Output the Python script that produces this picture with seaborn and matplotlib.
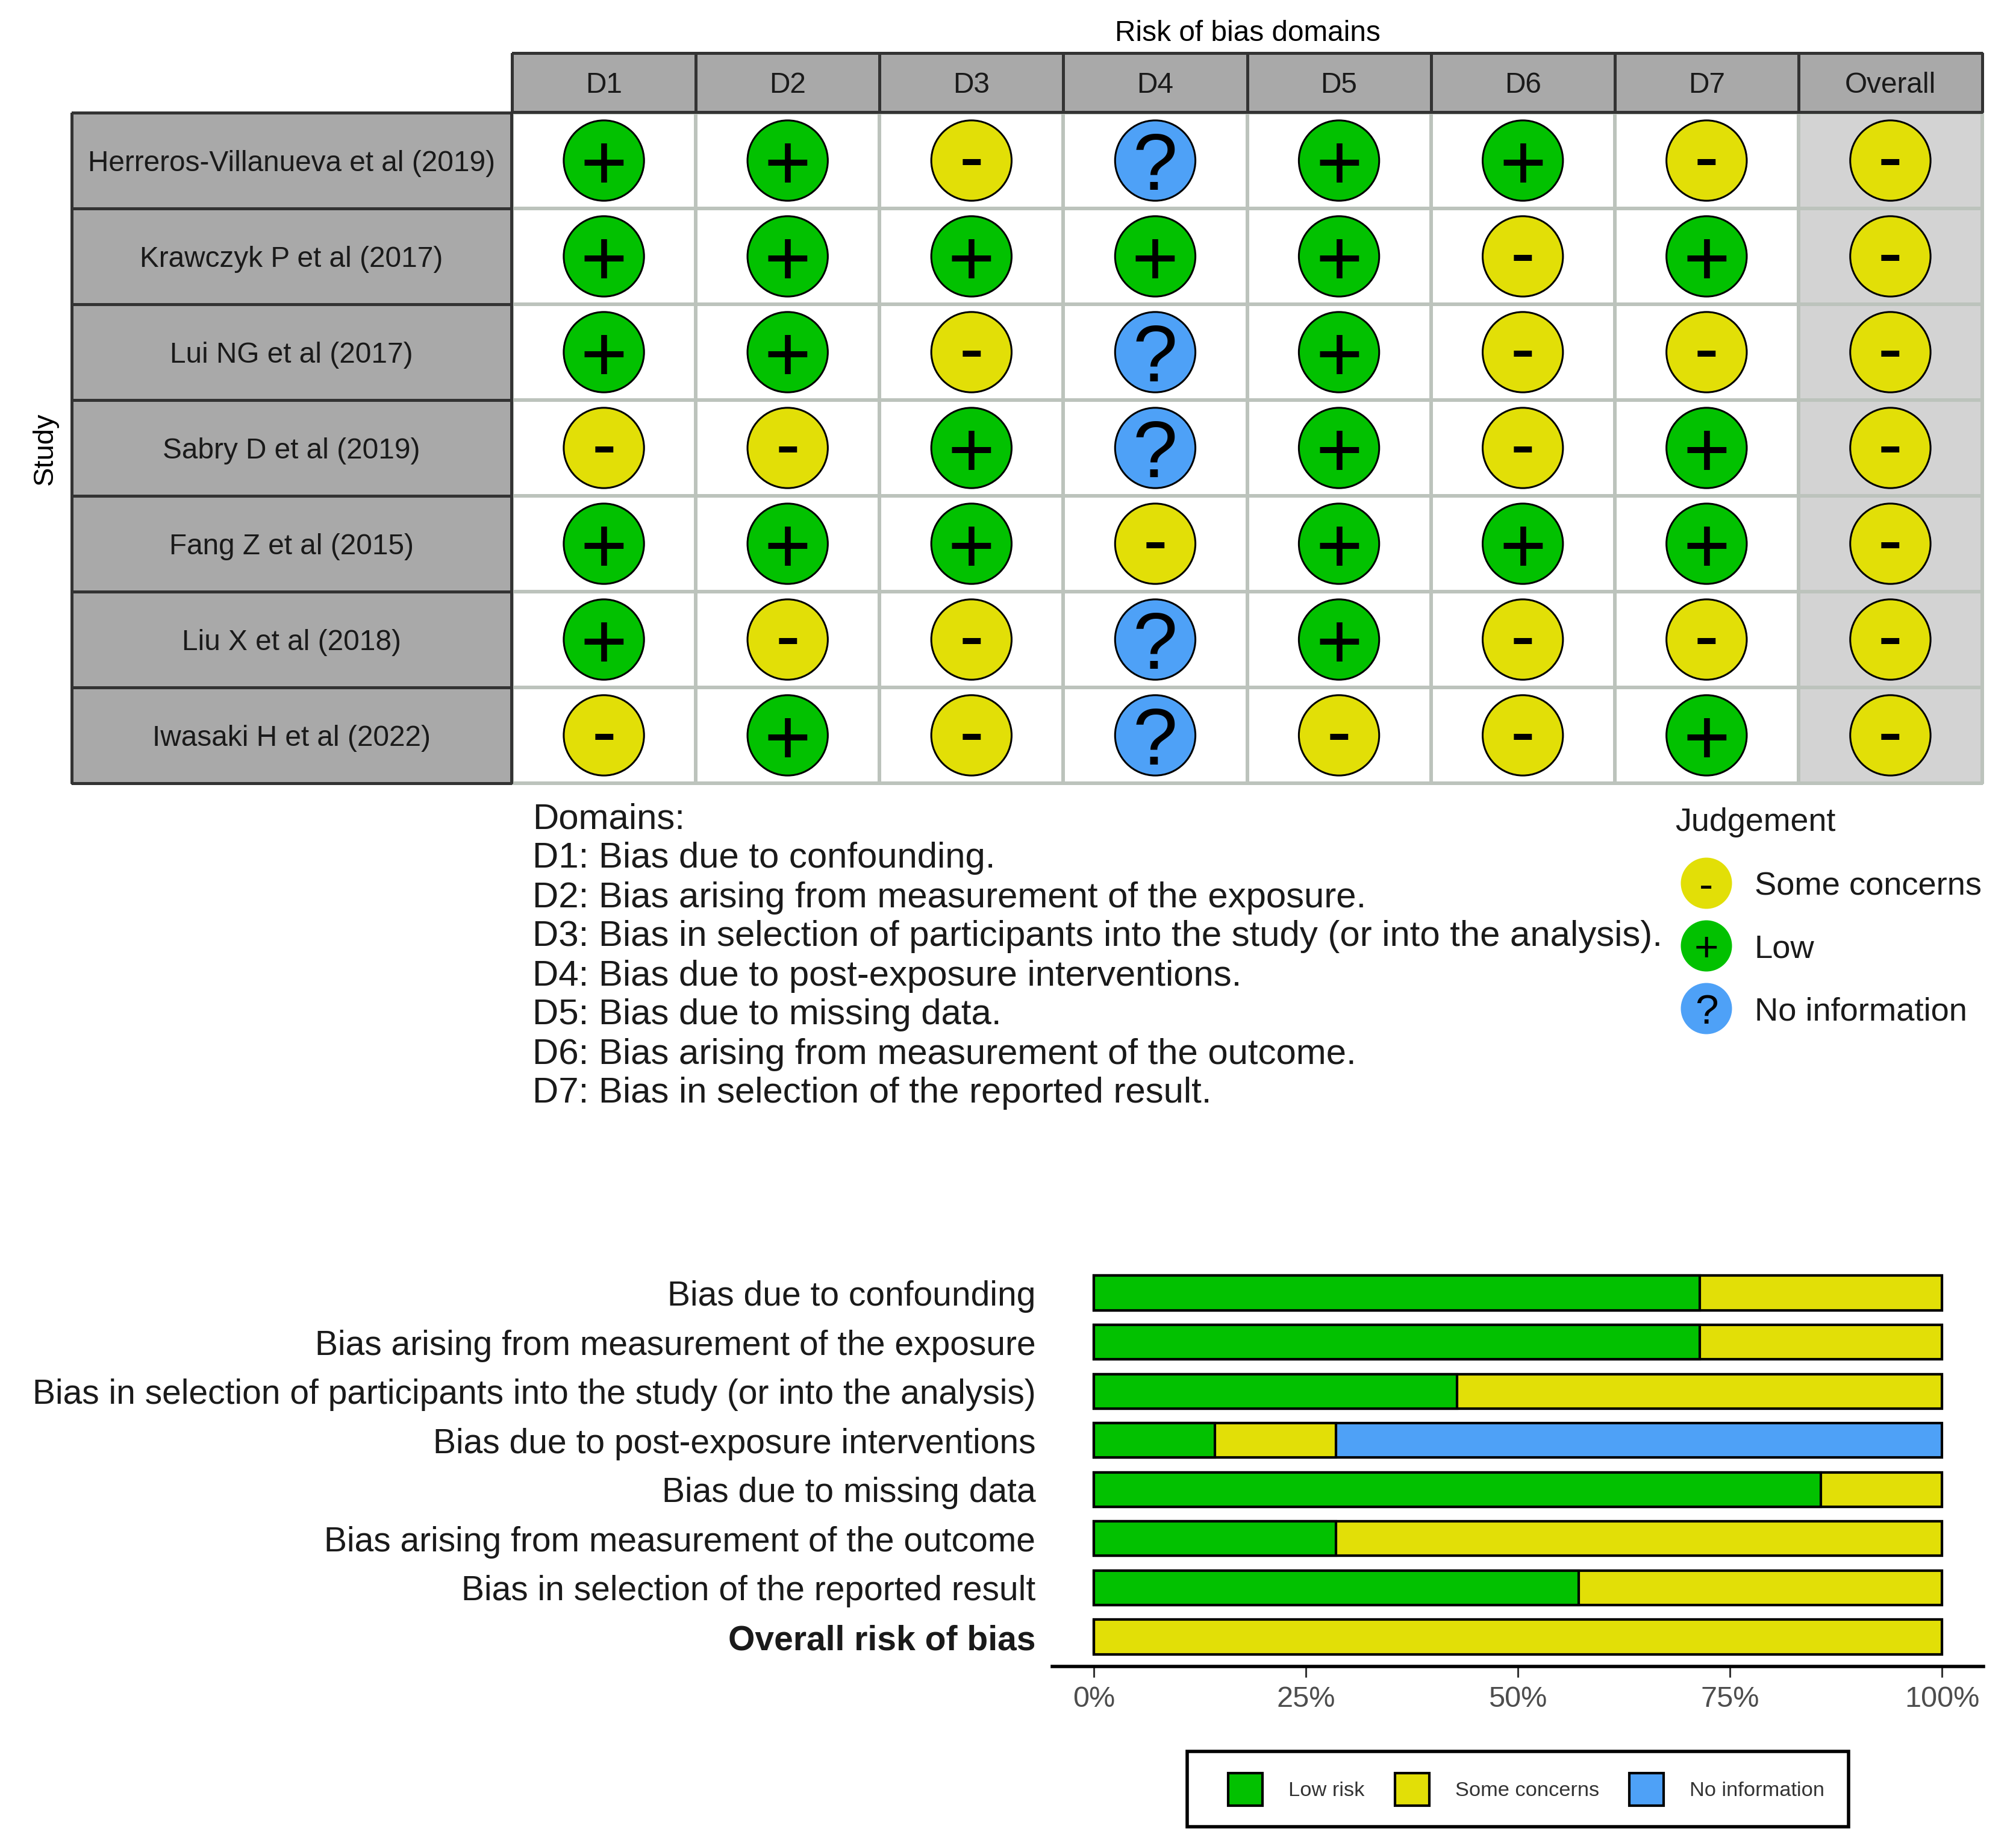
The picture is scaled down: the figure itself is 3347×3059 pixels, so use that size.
import matplotlib
matplotlib.use("Agg")
import matplotlib.pyplot as plt
from matplotlib.colors import ListedColormap
from matplotlib.patches import Patch, Rectangle
import numpy as np
import pandas as pd
import seaborn as sns

W, H, DPI = 3347, 3059, 200

studies = [
    "Herreros-Villanueva et al (2019)",
    "Krawczyk P et al (2017)",
    "Lui NG et al (2017)",
    "Sabry D et al (2019)",
    "Fang Z et al (2015)",
    "Liu X et al (2018)",
    "Iwasaki H et al (2022)",
]
domain_codes = ["D1", "D2", "D3", "D4", "D5", "D6", "D7", "Overall"]

# one list per study, same order as domain_codes
herreros = ["+", "+", "-", "?", "+", "+", "-", "-"]
krawczyk = ["+", "+", "+", "+", "+", "-", "+", "-"]
lui = ["+", "+", "-", "?", "+", "-", "-", "-"]
sabry = ["-", "-", "+", "?", "+", "-", "+", "-"]
fang = ["+", "+", "+", "-", "+", "+", "+", "-"]
liu = ["+", "-", "-", "?", "+", "-", "-", "-"]
iwasaki = ["-", "+", "-", "?", "-", "-", "+", "-"]

domain_notes = [
    "Domains:",
    "D1: Bias due to confounding.",
    "D2: Bias arising from measurement of the exposure.",
    "D3: Bias in selection of participants into the study (or into the analysis).",
    "D4: Bias due to post-exposure interventions.",
    "D5: Bias due to missing data.",
    "D6: Bias arising from measurement of the outcome.",
    "D7: Bias in selection of the reported result.",
]

bar_labels = [
    "Bias due to confounding",
    "Bias arising from measurement of the exposure",
    "Bias in selection of participants into the study (or into the analysis)",
    "Bias due to post-exposure interventions",
    "Bias due to missing data",
    "Bias arising from measurement of the outcome",
    "Bias in selection of the reported result",
    "Overall risk of bias",
]
low_pct = [71.43, 71.43, 42.86, 14.29, 85.71, 28.57, 57.14, 0]
some_pct = [28.57, 28.57, 57.14, 14.29, 14.29, 71.43, 42.86, 100]
none_pct = [0, 0, 0, 71.42, 0, 0, 0, 0]
pct_ticks = [0, 25, 50, 75, 100]

GREEN = "#02C100"
YELLOW = "#E2DF07"
BLUE = "#4EA1F7"
palette = {"+": GREEN, "-": YELLOW, "?": BLUE}
# the hyphen sits low in its line box
mark_shift = {"+": 0, "-": -0.055, "?": 0}


def add_axes_px(fig, left, top, right, bottom):
    return fig.add_axes([left / W, 1 - bottom / H, (right - left) / W, (bottom - top) / H])


sns.set_theme(style="white")
plt.rcParams["font.family"] = ["Liberation Sans", "DejaVu Sans"]
plt.rcParams["text.color"] = "#1A1A1A"

fig = plt.figure(figsize=(W / DPI, H / DPI), dpi=DPI, facecolor="white")

# traffic light grid
judgements = pd.DataFrame(
    [herreros, krawczyk, lui, sabry, fang, liu, iwasaki], index=studies, columns=domain_codes
)
long_df = judgements.reset_index(names="study").melt(id_vars="study", var_name="domain", value_name="judgement")
long_df["col"] = long_df["domain"].map(domain_codes.index) + 0.5
long_df["row"] = long_df["study"].map(studies.index) + 0.5

ax = add_axes_px(fig, 850, 187, 3291, 1300)
background = np.zeros(judgements.shape)
background[:, -1] = 1
sns.heatmap(
    background,
    cmap=ListedColormap(["white", "#D3D3D3"]),
    vmin=0,
    vmax=1,
    cbar=False,
    linewidths=1.5,
    linecolor="#BCC3BC",
    xticklabels=False,
    yticklabels=False,
    clip_on=False,
    ax=ax,
)
sns.scatterplot(
    data=long_df,
    x="col",
    y="row",
    hue="judgement",
    palette=palette,
    s=2304,
    edgecolor="black",
    linewidth=1.1,
    legend=False,
    zorder=3,
    clip_on=False,
    ax=ax,
)
ax.set_xlabel("")
ax.set_ylabel("")
for _, cell in long_df.iterrows():
    mark = cell["judgement"]
    ax.text(cell["col"], cell["row"] + mark_shift[mark], mark, ha="center", va="center_baseline",
            fontsize=44 if mark == "-" else 48, color="black", zorder=4)

strip_cmap = ListedColormap(["#A9A9A9"])
strip_text = {"fontsize": 17.2, "color": "#1A1A1A", "va": "center_baseline"}
top_ax = add_axes_px(fig, 850, 88, 3291, 186)
sns.heatmap(
    np.zeros((1, len(domain_codes))),
    annot=np.array([domain_codes]),
    fmt="",
    annot_kws=strip_text,
    cmap=strip_cmap,
    cbar=False,
    linewidths=1.1,
    linecolor="#333333",
    xticklabels=False,
    yticklabels=False,
    clip_on=False,
    ax=top_ax,
)
side_ax = add_axes_px(fig, 119, 187, 849, 1300)
sns.heatmap(
    np.zeros((len(studies), 1)),
    annot=np.array(studies).reshape(-1, 1),
    fmt="",
    annot_kws=strip_text,
    cmap=strip_cmap,
    cbar=False,
    linewidths=1.1,
    linecolor="#333333",
    xticklabels=False,
    yticklabels=False,
    clip_on=False,
    ax=side_ax,
)
fig.text(2071 / W, 1 - 55 / H, "Risk of bias domains", fontsize=17.2, ha="center", va="center", color="black")
fig.text(75 / W, 1 - 745 / H, "Study", fontsize=17, rotation=90, ha="center", va="center", color="black")

# domain key
for i, line in enumerate(domain_notes):
    fig.text(884 / W, 1 - (1360 + i * 65) / H, line, fontsize=21.6, ha="left", va="center")

# judgement key
key_labels = ["Some concerns", "Low", "No information"]
key_marks = ["-", "+", "?"]
key_ax = add_axes_px(fig, 2790, 1414, 2876, 1726)
sns.scatterplot(
    x=[0, 0, 0],
    y=[0, 1, 2],
    hue=key_marks,
    palette=palette,
    s=936,
    linewidth=0,
    legend=False,
    clip_on=False,
    ax=key_ax,
)
key_ax.set_xlim(-1, 1)
key_ax.set_ylim(2.5, -0.5)
key_ax.axis("off")
for i, (mark, label) in enumerate(zip(key_marks, key_labels)):
    key_ax.text(0, i, mark, ha="center", va="center_baseline", fontsize=25, color="black")
    key_ax.text(1.86, i + 0.05, label, ha="left", va="center", fontsize=19.6)
fig.text(2781 / W, 1 - 1365 / H, "Judgement", fontsize=19.4, ha="left", va="center")

# summary bars, widest stack first so the shorter ones sit on top
bar_ax = add_axes_px(fig, 1747, 2097, 3293, 2766)
low = np.array(low_pct)
low_some = low + np.array(some_pct)
all_three = low_some + np.array(none_pct)
for totals, color in [(all_three, BLUE), (low_some, YELLOW), (low, GREEN)]:
    sns.barplot(
        x=totals,
        y=bar_labels,
        orient="h",
        color=color,
        saturation=1,
        width=0.7,
        edgecolor="black",
        linewidth=1.5,
        ax=bar_ax,
    )
bar_ax.set_xlim(-4.9, 104.9)
bar_ax.set_ylim(7.6, -0.6)
sns.despine(ax=bar_ax, left=True)
bar_ax.spines["bottom"].set_color("black")
bar_ax.spines["bottom"].set_linewidth(2)
bar_ax.set_xticks(pct_ticks)
bar_ax.set_xticklabels([f"{t}%" for t in pct_ticks])
bar_ax.tick_params(axis="x", bottom=True, length=6.5, width=1.1, color="#333333",
                   labelcolor="#4D4D4D", labelsize=17.5, pad=5)
bar_ax.tick_params(axis="y", left=False, labelsize=20.5, labelcolor="#1A1A1A", pad=4)
bar_ax.get_yticklabels()[-1].set_fontweight("bold")
bar_ax.set_xlabel("")
bar_ax.set_ylabel("")

# bottom legend
fig.add_artist(Rectangle((1971 / W, 1 - 3032 / H), 1098 / W, 125 / H, transform=fig.transFigure,
                         facecolor="none", edgecolor="black", linewidth=2, zorder=-1))
handles = [
    Patch(facecolor=GREEN, edgecolor="black", linewidth=1.5, label="Low risk"),
    Patch(facecolor=YELLOW, edgecolor="black", linewidth=1.5, label="Some concerns"),
    Patch(facecolor=BLUE, edgecolor="black", linewidth=1.5, label="No information"),
]
bar_ax.legend(
    handles=handles,
    ncol=3,
    loc="center",
    bbox_to_anchor=(2534 / W, 1 - 2970 / H),
    bbox_transform=fig.transFigure,
    frameon=False,
    fontsize=12.4,
    handlelength=1.66,
    handleheight=2.0,
    handletextpad=1.25,
    columnspacing=1.45,
    labelcolor="#333333",
)

fig.savefig("out.png", dpi=DPI, facecolor="white")
plt.close(fig)
